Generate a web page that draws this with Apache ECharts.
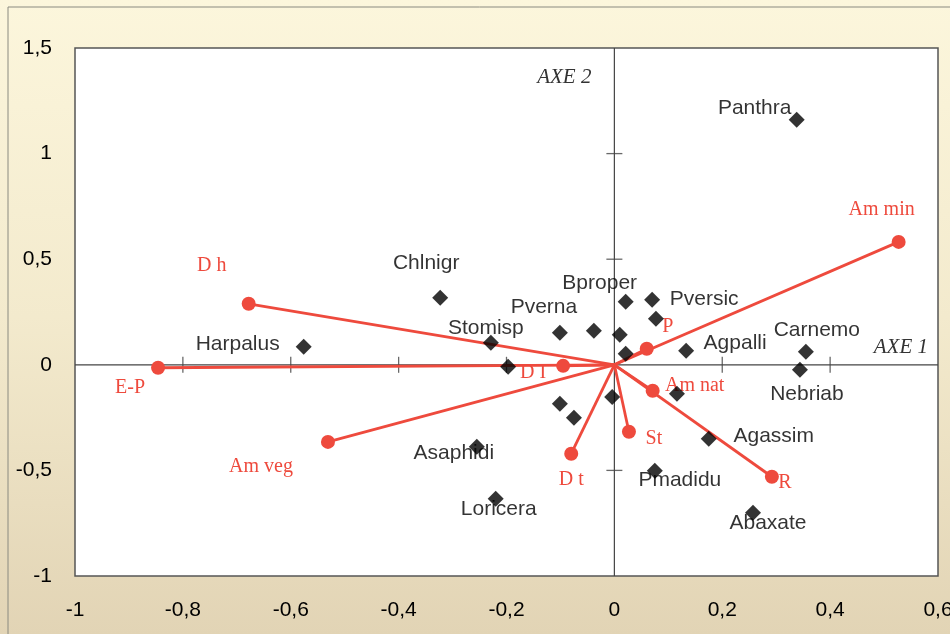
<!DOCTYPE html>
<html>
<head>
<meta charset="utf-8">
<script src="https://cdn.jsdelivr.net/npm/echarts@6/dist/echarts.min.js"></script>
<style>html,body{margin:0;padding:0;background:#fff;overflow:hidden}#c{width:950px;height:634px}</style>
</head>
<body>
<div id="c"></div>
<script>
// ---- data ----
const speciesNames = ['Panthra','Chlnigr','Bproper','Pversic','','Pverna','','','','Stomisp','Harpalus','','Agpalli','Carnemo','Nebriab','','','','','Asaphidi','Agassim','Pmadidu','Abaxate','Loricera'];
const speciesX = [0.338,-0.323,0.021,0.070,0.077,-0.101,-0.038,0.010,0.021,-0.229,-0.576,-0.197,0.133,0.355,0.344,0.116,-0.004,-0.101,-0.075,-0.255,0.175,0.075,0.257,-0.220];
const speciesY = [1.160,0.317,0.298,0.308,0.218,0.152,0.161,0.142,0.052,0.104,0.085,-0.009,0.066,0.062,-0.024,-0.137,-0.152,-0.185,-0.251,-0.388,-0.350,-0.502,-0.701,-0.634];

const varNames = ['Am min','D h','E-P','Am veg','D I','P','Am nat','St','D t','R'];
const varX = [0.527,-0.678,-0.846,-0.531,-0.095,0.060,0.071,0.027,-0.080,0.292];
const varY = [0.582,0.289,-0.014,-0.365,-0.005,0.076,-0.123,-0.317,-0.421,-0.530];

const xTicks = [-0.8,-0.6,-0.4,-0.2,0.2,0.4];
const yTicks = [1,0.5,-0.5];

// ---- layout (label offsets in px, separate from data) ----
const speciesLabelOffset = {
  'Panthra':[-42,-12],'Chlnigr':[-14,-35],'Bproper':[-26,-19],'Pversic':[52,-1],
  'Pverna':[-16,-25],'Stomisp':[-5,-15],'Harpalus':[-66,-3],'Agpalli':[49,-8],
  'Carnemo':[11,-22],'Nebriab':[7,24],'Asaphidi':[-23,6],'Agassim':[65,-3],
  'Pmadidu':[25,9],'Abaxate':[15,10],'Loricera':[3,11]
};
const varLabelOffset = {
  'Am min':[-17,-32],'D h':[-37,-38],'E-P':[-28,20],'Am veg':[-67,25],'D I':[-30,7],
  'P':[21,-22],'Am nat':[42,-5],'St':[25,7],'D t':[0,26],'R':[13,6]
};

const RED = '#EE4A3D';
const fmt = v => String(+(+v).toFixed(1)).replace('.', ',');

const chart = echarts.init(document.getElementById('c'));

const series = [];
// central axes
series.push({type:'line', data:[[-1,0],[0.6,0]], symbol:'none', silent:true, z:1,
  lineStyle:{color:'#444', width:1.2}});
series.push({type:'line', data:[[0,-1],[0,1.5]], symbol:'none', silent:true, z:1,
  lineStyle:{color:'#444', width:1.2}});
// tick marks crossing the central axes
series.push({type:'scatter', data:xTicks.map(v=>[v,0]), symbol:'rect', symbolSize:[1.3,16], silent:true, z:1,
  itemStyle:{color:'#444'}});
series.push({type:'scatter', data:yTicks.map(v=>[0,v]), symbol:'rect', symbolSize:[16,1.3], silent:true, z:1,
  itemStyle:{color:'#444'}});

// vectors
varNames.forEach((n,i)=>{
  series.push({
    type:'line', z:3, silent:true,
    data:[{value:[0,0], symbol:'none', label:{show:false}},
          {value:[varX[i],varY[i]], symbol:'circle', symbolSize:14,
           label:{show:true, formatter:n, position:'inside', offset:varLabelOffset[n]||[0,0]}}],
    showAllSymbol:true,
    lineStyle:{color:RED, width:2.8},
    itemStyle:{color:RED},
    label:{color:RED, fontFamily:'"Liberation Serif","Times New Roman",serif', fontSize:20},
    emphasis:{disabled:true}
  });
});

// species
series.push({
  type:'scatter', z:5, symbol:'diamond', symbolSize:16,
  itemStyle:{color:'#000'},
  data: speciesNames.map((n,i)=>({
    value:[speciesX[i], speciesY[i]], name:n,
    label:{show: n!=='', formatter:n, position:'inside', offset:speciesLabelOffset[n]||[0,0]}
  })),
  label:{color:'#000', fontFamily:'"Liberation Sans",Arial,sans-serif', fontSize:21},
  emphasis:{disabled:true}
});

chart.setOption({
  animation:false,
  backgroundColor: new echarts.graphic.LinearGradient(0,0,0,1,[
    {offset:0,color:'#FCF6DC'},{offset:0.5,color:'#F3EACD'},{offset:1,color:'#E2D4B5'}]),
  grid:{left:75, top:48, width:863, height:528, show:true, backgroundColor:'#fff',
    borderColor:'#555', borderWidth:1.5, containLabel:false, outerBoundsMode:'none'},
  xAxis:{type:'value', min:-1, max:0.6, interval:0.2,
    axisLine:{show:false}, axisTick:{show:false}, splitLine:{show:false},
    axisLabel:{formatter:fmt, margin:24, color:'#000', fontSize:21, fontFamily:'"Liberation Sans",Arial,sans-serif'}},
  yAxis:{type:'value', min:-1, max:1.5, interval:0.5,
    axisLine:{show:false}, axisTick:{show:false}, splitLine:{show:false},
    axisLabel:{formatter:fmt, margin:23, color:'#000', fontSize:21, fontFamily:'"Liberation Sans",Arial,sans-serif'}},
  series: series
});

// axis captions anchored to the data frame
const pTop = chart.convertToPixel({gridIndex:0}, [0, 1.5]);
const pRight = chart.convertToPixel({gridIndex:0}, [0.6, 0]);
chart.setOption({
  graphic:[
    {type:'rect', shape:{x:8, y:7, width:980, height:660}, style:{fill:'none', stroke:'#8a8a80', lineWidth:1}, silent:true, z:0},
    {type:'text', x:pTop[0]-23, y:pTop[1]+29, style:{text:'AXE 2', align:'right', verticalAlign:'middle',
      font:'italic 21px "Liberation Serif", "Times New Roman", serif', fill:'#333'}, z:10},
    {type:'text', x:pRight[0]-10, y:pRight[1]-17, style:{text:'AXE 1', align:'right', verticalAlign:'middle',
      font:'italic 21px "Liberation Serif", "Times New Roman", serif', fill:'#333'}, z:10}
  ]
});
</script>
</body>
</html>
